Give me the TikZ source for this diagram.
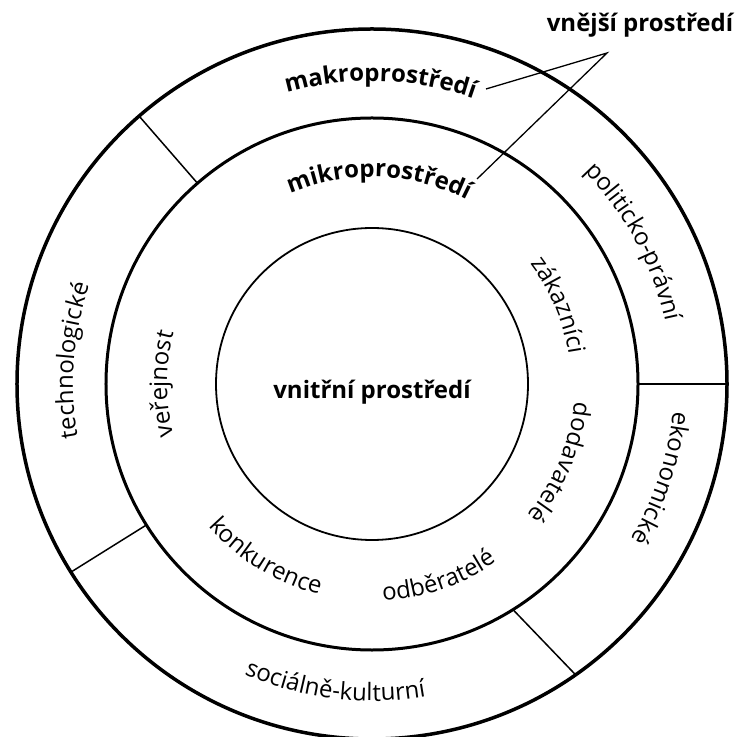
\documentclass[tikz,border=0pt]{standalone}
\usepackage{fontspec}
\setmainfont{Open Sans}
\usetikzlibrary{decorations.text}

\begin{document}
\begin{tikzpicture}
[x=0.5pt, y=0.5pt,
ring_outer/.style ={circle, draw, line width=1.75pt, inner sep=0pt, outer sep=0pt, minimum size=355pt},
ring_middle/.style ={circle, draw, line width=1.5pt, inner sep=0pt, outer sep=0pt, minimum size=266pt},
ring_inner/.style ={circle, draw, line width=0.9pt, inner sep=0pt, outer sep=0pt, minimum size=156pt},
line_sep/.style ={draw, line width=0.75pt},
line_pointer/.style ={draw, line width=0.65pt},
label_bold/.style ={font=\bfseries\fontsize{12}{14}\selectfont, inner sep=0pt},
text_bold/.style ={decorate, decoration={text along path, text align=center, text={|\bfseries\fontsize{12}{14}\selectfont|#1}}},
text_normal/.style ={decorate, decoration={text along path, text align=center, text={|\fontsize{12}{14}\selectfont|#1}}}
]

\useasboundingbox (-372,-353) rectangle (364,384);

%Kreise
\node [ring_outer] (makro) at (0,0) {};
\node [ring_middle] (mikro) at (0,0) {};
\node [ring_inner] (vnitrni) at (0,0) {};
\node [label_bold] (vnitrni_text) at (0,-8) {vnitřní prostředí};

%Trennlinien
\draw [line_sep] (mikro.131.5) -- (makro.131.5);
\draw [line_sep] (mikro.0) -- (makro.0);
\draw [line_sep] (mikro.212.5) -- (makro.212.5);
\draw [line_sep] (mikro.-58) -- (makro.-55.5);

%Beschriftung Ringe
\path [text_bold={makroprostředí}] (128.4:303) arc [start angle=128.4, end angle=48.4, radius=303];
\path [text_bold={mikroprostředí}] (133:207) arc [start angle=133, end angle=43, radius=207];
\path [text_normal={politicko-právní}] (68.5:300) arc [start angle=68.5, end angle=-11.5, radius=300];
\path [text_normal={ekonomické}] (22:302) arc [start angle=22, end angle=-58, radius=302];
\path [text_normal={technologické}] (215.5:299) arc [start angle=215.5, end angle=135.5, radius=299];
\path [text_normal={sociálně-kulturní}] (223:317) arc [start angle=223, end angle=303, radius=317];
\path [text_normal={zákazníci}] (63:199) arc [start angle=63, end angle=-17, radius=199];
\path [text_normal={dodavatelé}] (17.5:203) arc [start angle=17.5, end angle=-62.5, radius=203];
\path [text_normal={veřejnost}] (220:205) arc [start angle=220, end angle=140, radius=205];
\path [text_normal={odběratelé}] (249:217) arc [start angle=249, end angle=329, radius=217];
\path [text_normal={konkurence}] (198.5:217) arc [start angle=198.5, end angle=278.5, radius=217];

%Zeiger vnejsi prostredi
\node [label_bold, anchor=base] (vnejsi) at (268,352) {vnější prostředí};
\coordinate (spitze) at (235,331);
\coordinate (makro_end) at (114,295);
\coordinate (mikro_end) at (105,205);
\draw [line_pointer] (makro_end) -- (spitze) -- (mikro_end);

\end{tikzpicture}
\end{document}
